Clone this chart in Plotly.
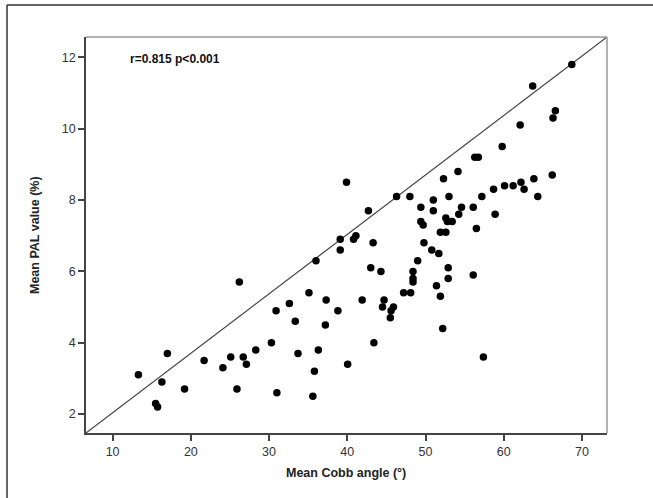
import plotly.graph_objects as go

# Mean Cobb angle (degrees) and mean PAL value (%) per subject
cobb_angle = [
    13.3, 17.0, 16.3, 15.5, 15.75, 19.2, 21.7, 24.1, 25.1, 25.9,
    26.7, 27.1, 28.3, 30.3, 31.0, 33.35, 33.7, 37.2, 36.3, 35.8,
    35.6, 40.05, 43.4, 39.9, 46.3, 48.0, 51.0, 49.4, 51.0, 42.7,
    49.4, 49.7, 51.9, 52.6, 41.1, 40.8, 39.1, 43.3, 49.8, 39.1,
    50.8, 51.7, 36.0, 49.0, 43.0, 44.3, 48.4, 48.4, 48.4, 26.2,
    47.2, 48.1, 51.4, 51.9, 35.1, 32.6, 30.9, 37.3, 41.9, 44.7,
    38.8, 44.5, 45.9, 45.6, 45.5, 52.2, 68.7, 63.7, 66.6, 66.3,
    62.1, 59.8, 56.3, 56.75, 54.15, 52.3, 66.2, 63.85, 62.2, 62.6,
    61.2, 60.1, 58.7, 57.2, 53.0, 64.35, 54.6, 56.1, 54.25, 58.9,
    52.6, 53.4, 52.8, 56.5, 52.9, 52.9, 56.1, 57.4,
]
pal_value = [
    3.1, 3.7, 2.9, 2.3, 2.2, 2.7, 3.5, 3.3, 3.6, 2.7,
    3.6, 3.4, 3.8, 4.0, 2.6, 4.6, 3.7, 4.5, 3.8, 3.2,
    2.5, 3.4, 4.0, 8.5, 8.1, 8.1, 8.0, 7.8, 7.7, 7.7,
    7.4, 7.3, 7.1, 7.1, 7.0, 6.9, 6.9, 6.8, 6.8, 6.6,
    6.6, 6.5, 6.3, 6.3, 6.1, 6.0, 6.0, 5.8, 5.7, 5.7,
    5.4, 5.4, 5.6, 5.3, 5.4, 5.1, 4.9, 5.2, 5.2, 5.2,
    4.9, 5.0, 5.0, 4.9, 4.7, 4.4, 11.8, 11.2, 10.5, 10.3,
    10.1, 9.5, 9.2, 9.2, 8.8, 8.6, 8.7, 8.6, 8.5, 8.3,
    8.4, 8.4, 8.3, 8.1, 8.1, 8.1, 7.8, 7.8, 7.6, 7.6,
    7.5, 7.4, 7.4, 7.2, 6.1, 5.8, 5.9, 3.6,
]

x_ticks = [10, 20, 30, 40, 50, 60, 70]
y_ticks = [2, 4, 6, 8, 10, 12]
x_range = [6.6, 73.2]
y_range = [1.47, 12.57]
stats_label = "r=0.815 p<0.001"

FONT = "Liberation Sans, Arial, sans-serif"

fig = go.Figure()

# corner-to-corner reference line
fig.add_trace(go.Scatter(
    x=x_range, y=y_range, mode="lines",
    line=dict(color="#444444", width=1.2),
    hoverinfo="skip", showlegend=False,
))

fig.add_trace(go.Scatter(
    x=cobb_angle, y=pal_value, mode="markers",
    marker=dict(color="black", size=7.5, line=dict(width=0)),
    showlegend=False,
))

axis_common = dict(
    showgrid=False, zeroline=False,
    showline=True, linecolor="#444444", linewidth=1.5,
    ticks="outside", ticklen=6, tickwidth=1.5, tickcolor="#444444",
    tickfont=dict(family=FONT, size=12.5, color="#333333"),
)

fig.update_xaxes(range=x_range, tickvals=x_ticks, **axis_common)
fig.update_yaxes(range=y_range, tickvals=y_ticks, **axis_common)

fig.update_layout(
    width=653, height=498,
    margin=dict(l=86, r=46, t=37, b=65),
    paper_bgcolor="white", plot_bgcolor="white",
    font=dict(family=FONT),
    shapes=[
        # top and right frame edges
        dict(type="line", xref="paper", yref="paper", x0=0, x1=1, y0=1, y1=1,
             line=dict(color="#999999", width=1.5)),
        dict(type="line", xref="paper", yref="paper", x0=1, x1=1, y0=0, y1=1,
             line=dict(color="#999999", width=1.5)),
        # outer panel border
        dict(type="line", xref="paper", yref="paper", x0=-0.1516, x1=1.1, y0=1.0808, y1=1.0808,
             line=dict(color="#333333", width=1.5)),
        dict(type="line", xref="paper", yref="paper", x0=-0.1516, x1=-0.1516, y0=-0.2, y1=1.0808,
             line=dict(color="#333333", width=1.5)),
    ],
    annotations=[
        dict(text=f"<b>{stats_label}</b>", xref="paper", yref="paper",
             x=(128 - 86) / 521, y=(433 - 59) / 396, xanchor="left", yanchor="middle",
             showarrow=False, font=dict(family=FONT, size=12, color="#111111")),
        dict(text="<b>Mean Cobb angle (°)</b>", xref="paper", yref="paper",
             x=(346 - 86) / 521, y=(433 - 473) / 396, xanchor="center", yanchor="middle",
             showarrow=False, font=dict(family=FONT, size=12.5, color="#222222")),
        dict(text="<b>Mean PAL value (%)</b>", xref="paper", yref="paper",
             x=(35 - 86) / 521, y=0.5, xanchor="center", yanchor="middle", textangle=-90,
             showarrow=False, font=dict(family=FONT, size=12.5, color="#222222")),
    ],
)

fig.write_html("out.html")
